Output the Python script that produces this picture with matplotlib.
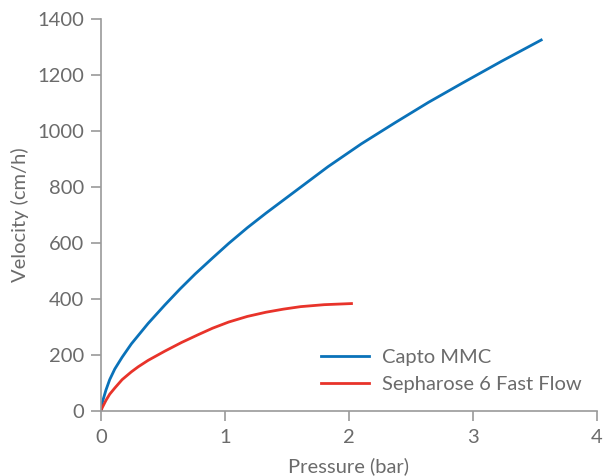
import matplotlib
matplotlib.use("Agg")
import matplotlib.pyplot as plt

# Data
capto_x = [0, 0.01, 0.04, 0.07, 0.111, 0.17, 0.245, 0.38, 0.515, 0.637, 0.76, 0.9, 1.03,
           1.18, 1.33, 1.58, 1.83, 2.1, 2.37, 2.64, 2.91, 3.23, 3.55]
capto_v = [0, 30, 75, 112, 150, 192, 240, 313, 379, 436, 490, 547, 599,
           655, 707, 790, 873, 955, 1030, 1103, 1171, 1250, 1326]
seph_x = [0, 0.01, 0.04, 0.07, 0.111, 0.17, 0.245, 0.3, 0.38, 0.515, 0.65, 0.785, 0.9,
          1.03, 1.18, 1.33, 1.47, 1.61, 1.8, 2.02]
seph_v = [0, 12, 38, 60, 82, 112, 140, 158, 181, 214, 245, 273, 296,
          318, 338, 353, 364, 373, 380, 384]
x_ticks = [0, 1, 2, 3, 4]
y_ticks = [0, 200, 400, 600, 800, 1000, 1200, 1400]
series_names = ["Capto MMC", "Sepharose 6 Fast Flow"]

plt.rcParams['font.family'] = ['Lato', 'DejaVu Sans']
TXT = '#6b6b6b'
AX = '#9a9a9a'
FS = 14.5

fig = plt.figure(figsize=(6.08, 4.76), dpi=100)
ax = fig.add_axes([101/608, 65/476, 496/608, 391.7/476])

ax.plot(capto_x, capto_v, color='#0a72b9', lw=2, label=series_names[0],
        solid_joinstyle='round')
ax.plot(seph_x, seph_v, color='#e8332a', lw=2, label=series_names[1],
        solid_joinstyle='round')

ax.set_xlim(0, 4)
ax.set_ylim(0, 1400)
ax.set_xticks(x_ticks)
ax.set_yticks(y_ticks)
for s in ['top', 'right']:
    ax.spines[s].set_visible(False)
for s in ['left', 'bottom']:
    ax.spines[s].set_color(AX)
    ax.spines[s].set_linewidth(1.2)
ax.tick_params(axis='both', colors=AX, labelcolor=TXT, labelsize=FS,
               length=7, width=1.2, direction='out')
ax.tick_params(axis='y', pad=5)
ax.tick_params(axis='x', pad=6)

ax.set_xlabel('Pressure (bar)', color=TXT, fontsize=FS, labelpad=8)
ax.set_ylabel('Velocity (cm/h)', color=TXT, fontsize=FS, labelpad=6)

leg = ax.legend(loc='lower left', bbox_to_anchor=(0.427, 0.025), frameon=False,
                fontsize=FS, handlelength=2.4, handletextpad=0.65, labelspacing=0.5,
                borderaxespad=0)
for t in leg.get_texts():
    t.set_color(TXT)

fig.savefig('out.png', dpi=100)
